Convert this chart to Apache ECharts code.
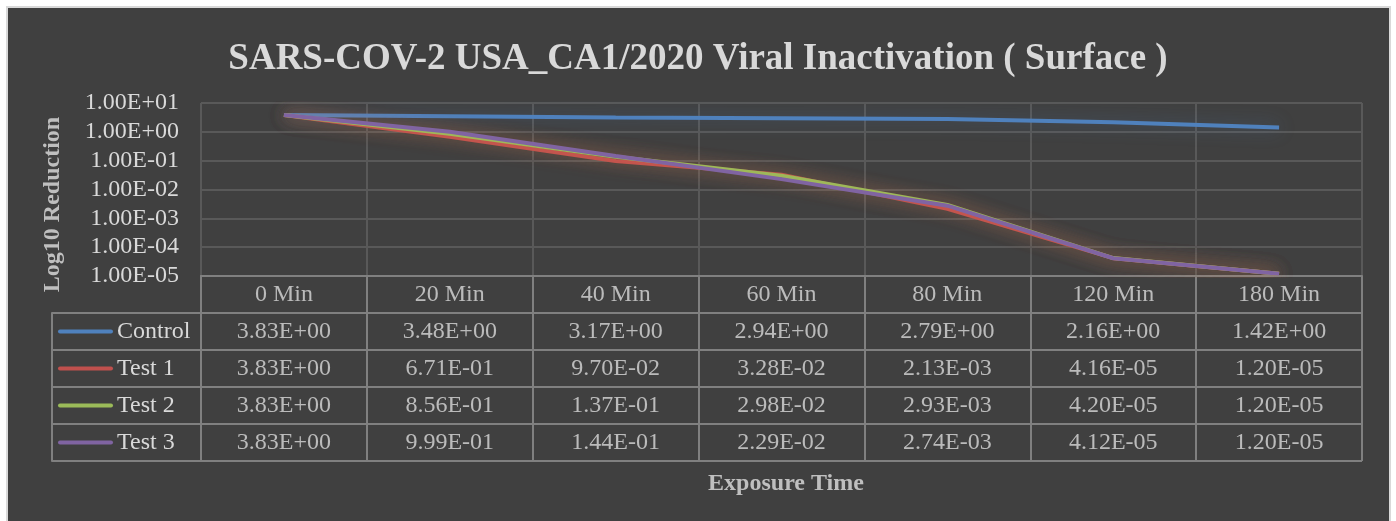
<!DOCTYPE html>
<html>
<head>
<meta charset="utf-8">
<script src="https://cdn.jsdelivr.net/npm/echarts@6/dist/echarts.min.js"></script>
<style>
  html, body { margin: 0; padding: 0; background: #fff; }
  #main { width: 1396px; height: 521px; }
</style>
</head>
<body>
<div id="main"></div>
<script>
var categories = ['0 Min', '20 Min', '40 Min', '60 Min', '80 Min', '120 Min', '180 Min'];
var seriesNames = ['Control', 'Test 1', 'Test 2', 'Test 3'];
var control = [3.83, 3.48, 3.17, 2.94, 2.79, 2.16, 1.42];
var test1 = [3.83, 0.671, 0.097, 0.0328, 0.00213, 0.0000416, 0.000012];
var test2 = [3.83, 0.856, 0.137, 0.0298, 0.00293, 0.000042, 0.000012];
var test3 = [3.83, 0.999, 0.144, 0.0229, 0.00274, 0.0000412, 0.000012];
var seriesValues = [control, test1, test2, test3];
var colors = ['#4f81bd', '#c0504d', '#9bbb59', '#8064a2'];
var glows = ['rgba(79,129,189,0.45)', 'rgba(240,140,90,0.3)', 'rgba(240,140,90,0.3)', 'rgba(240,140,90,0.3)'];

var serif = '"Liberation Serif", "Times New Roman", serif';
var textColor = '#d9d9d9';
var gridColor = '#595959';
var tableColor = '#808080';

function sci(v) {
    var parts = v.toExponential(2).split('e');
    var n = parseInt(parts[1], 10);
    return parts[0] + 'E' + (n < 0 ? '-' : '+') + String(Math.abs(n)).padStart(2, '0');
}

var chartDom = document.getElementById('main');
var myChart = echarts.init(chartDom);
var option;

// line series on the plot
var lineSeries = seriesNames.map(function (name, k) {
    return {
        name: name,
        type: 'line',
        xAxisIndex: 0,
        yAxisIndex: 0,
        data: seriesValues[k],
        symbol: 'none',
        silent: true,
        z: 3 + k,
        lineStyle: {
            color: colors[k],
            width: 4,
            shadowBlur: 18,
            shadowColor: glows[k]
        }
    };
});

// data table cells (header row + one row per series)
var cells = categories.map(function (c, i) {
    return { value: [i, 0], text: c };
});
seriesValues.forEach(function (vals, k) {
    vals.forEach(function (v, i) {
        cells.push({ value: [i, k + 1], text: sci(v) });
    });
});

var legendRich = {
    g: { width: 4, height: 4 },
    t: { fontFamily: serif, fontSize: 24, color: textColor }
};
colors.forEach(function (c, k) {
    legendRich['l' + k] = { width: 55, height: 4, backgroundColor: c, borderRadius: 2 };
});

option = {
    backgroundColor: '#ffffff',
    animation: false,
    graphic: [{
        type: 'rect',
        z: -10,
        silent: true,
        shape: { x: 7, y: 7, width: 1383, height: 530 },
        style: { fill: '#404040', stroke: '#d9d9d9', lineWidth: 2 }
    }],
    title: [{
        text: 'SARS-COV-2 USA_CA1/2020 Viral Inactivation ( Surface )',
        left: 'center',
        top: 36,
        textStyle: { fontFamily: serif, fontSize: 37, fontWeight: 'bold', color: textColor }
    }, {
        text: 'Exposure Time',
        left: 781,
        textAlign: 'center',
        top: 467,
        textStyle: { fontFamily: serif, fontSize: 24, fontWeight: 'bold', color: '#bfbfbf' }
    }],
    grid: [
        { left: 201, right: 34, top: 103, height: 173 },
        { left: 201, right: 34, top: 276, height: 185 },
        { left: 52, top: 313, width: 149, height: 148 }
    ],
    xAxis: [{
        gridIndex: 0,
        type: 'category',
        data: categories,
        boundaryGap: true,
        axisLine: { show: false },
        axisTick: { show: false },
        axisLabel: { show: false },
        splitLine: { show: true, lineStyle: { color: gridColor, width: 2 } }
    }, {
        gridIndex: 1,
        type: 'category',
        data: categories,
        position: 'top',
        boundaryGap: true,
        axisLine: { show: true, lineStyle: { color: tableColor, width: 2 } },
        axisTick: { show: false },
        axisLabel: { show: false },
        splitLine: { show: true, lineStyle: { color: tableColor, width: 2 } }
    }, {
        gridIndex: 2,
        type: 'value',
        show: false
    }],
    yAxis: [{
        gridIndex: 0,
        type: 'log',
        logBase: 10,
        min: 1e-5,
        max: 10,
        splitNumber: 6,
        name: 'Log10 Reduction',
        nameLocation: 'middle',
        nameRotate: 90,
        nameGap: 136,
        nameTextStyle: {
            fontFamily: serif, fontSize: 24, fontWeight: 'bold', color: '#bfbfbf',
            padding: [0, 30, 0, 0]
        },
        axisLine: { show: false },
        axisTick: { show: false },
        axisLabel: {
            margin: 22,
            fontFamily: serif,
            fontSize: 24,
            color: textColor,
            formatter: function (v) { return sci(v); }
        },
        splitLine: { show: true, lineStyle: { color: gridColor, width: 2 } }
    }, {
        gridIndex: 1,
        type: 'category',
        data: [''].concat(seriesNames),
        inverse: true,
        boundaryGap: true,
        axisLine: { show: true, lineStyle: { color: tableColor, width: 2 } },
        axisTick: { show: false },
        axisLabel: { show: false },
        splitLine: { show: true, lineStyle: { color: tableColor, width: 2 } }
    }, {
        gridIndex: 2,
        type: 'category',
        data: seriesNames,
        inverse: true,
        boundaryGap: true,
        axisLine: { show: true, lineStyle: { color: tableColor, width: 2 } },
        axisTick: { show: false },
        axisLabel: {
            inside: true,
            margin: 6,
            rich: legendRich,
            formatter: function (v, i) { return '{l' + i + '|}{g|}{t|' + v + '}'; }
        },
        splitLine: { show: true, lineStyle: { color: tableColor, width: 2 } }
    }],
    series: lineSeries.concat([{
        type: 'scatter',
        xAxisIndex: 1,
        yAxisIndex: 1,
        silent: true,
        symbolSize: 1,
        itemStyle: { color: 'transparent' },
        data: cells,
        label: {
            show: true,
            position: 'inside',
            fontFamily: serif,
            fontSize: 24,
            color: textColor,
            formatter: function (p) { return p.data.text; }
        }
    }])
};

option && myChart.setOption(option);
</script>
</body>
</html>
